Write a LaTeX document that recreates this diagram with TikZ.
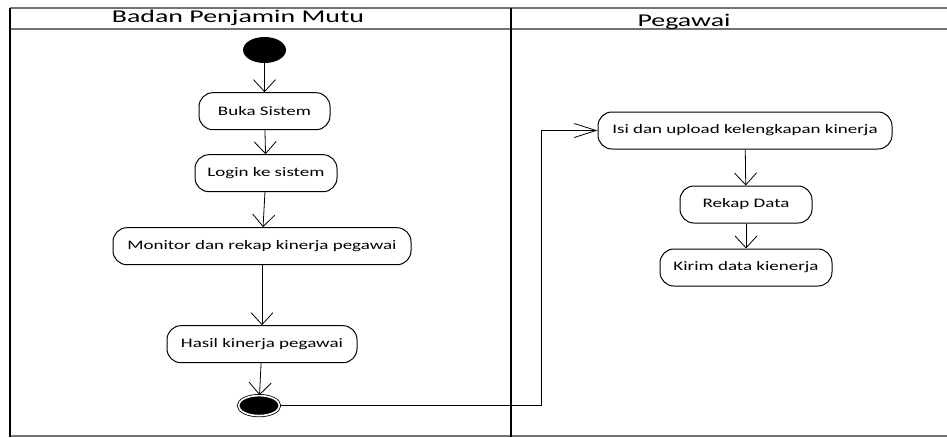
\documentclass[tikz,border=0pt]{standalone}
\usepackage{fontspec}
\setmainfont{Carlito}[FakeStretch=1.46]
\newfontfamily\lanefont{Carlito}[FakeStretch=1.55]
\usepackage{tikz}
\usetikzlibrary{shapes,positioning,arrows.meta}
\tikzset{act/.style={draw,rounded corners=14pt,minimum height=37pt,line width=1pt,align=center,font=\fontsize{13}{15}\selectfont}}
\tikzset{flow/.style={line width=0.8pt,-{Straight Barb[length=12pt,width=22pt]}}}
\tikzset{flowh/.style={line width=0.8pt,-{Straight Barb[length=22pt,width=14pt]}}}
\tikzset{lane/.style={anchor=base,font=\lanefont\fontsize{18}{20}\selectfont}}

\begin{document}
\begin{tikzpicture}[x=1pt,y=-1pt]
\useasboundingbox (0,0) rectangle (947,437);

% Lanes
\draw[black!55,line width=1.6pt] (10,8) -- (947,8)
    (10,29) -- (947,29)
    (10,436) -- (947,436);
\draw[line width=1.6pt] (10,8) -- (10,437)
    (511,8) -- (511,437);

\node[lane] (lane1) at (238,22.7) {Badan Penjamin Mutu};
\node[lane] (lane2) at (684,26) {Pegawai};

\node[ellipse,
    fill=black,
    minimum width=43pt,
    minimum height=26pt,
    inner sep=0pt
] (start) at (264.5,50) {};

\node[act,
    below=29pt of start,
    minimum width=131pt
] (buka) {Buka Sistem};

\node[act,
    below=24pt of buka,
    xshift=1.5pt,
    minimum width=142pt
] (login) {Login ke sistem};

\node[act,
    below=35pt of login,
    xshift=-4pt,
    minimum width=298pt
] (monitor) {Monitor dan rekap kinerja pegawai};

\node[act,
    below=60pt of monitor,
    minimum width=190pt
] (hasil) {Hasil kinerja pegawai};

\node[ellipse,
    draw,
    double,
    double distance=1.6pt,
    line width=0.8pt,
    fill=black,
    below=32pt of hasil,
    xshift=-3pt,
    minimum width=41pt,
    minimum height=20pt,
    inner sep=0pt
] (final) {};

\node[act,
    minimum width=294pt
] (isi) at (745,130.5) {Isi dan upload kelengkapan kinerja};

\node[act,
    below=36pt of isi,
    xshift=1pt,
    minimum width=132pt
] (rekap) {Rekap Data};

\node[act,
    below=25pt of rekap,
    minimum width=172pt
] (kirim) {Kirim data kienerja};

\coordinate[left=56pt of isi.west] (turn);

% Arrows
\draw[flow] (start) edge (buka)
    (buka) edge (login)
    (login) edge (monitor)
    (monitor) edge (hasil)
    (hasil) edge (final)
    (isi) edge (rekap)
    (rekap) edge (kirim)
    ;
\draw[flowh] (final.east) -| (turn) -- (isi.west);
\end{tikzpicture}
\end{document}
